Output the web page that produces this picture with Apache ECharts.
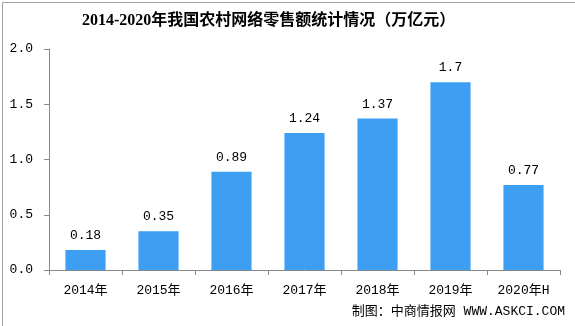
<!DOCTYPE html>
<html>
<head>
<meta charset="utf-8">
<script src="https://cdn.jsdelivr.net/npm/echarts@6/dist/echarts.min.js"></script>
<style>
  html, body { margin: 0; padding: 0; background: #fff; }
  #chart { width: 575px; height: 326px; }
</style>
</head>
<body>
<div id="chart"></div>
<script>
// Rural online retail sales, trillion yuan
const years = ['2014年', '2015年', '2016年', '2017年', '2018年', '2019年', '2020年H'];
const sales = [0.18, 0.35, 0.89, 1.24, 1.37, 1.7, 0.77];
const yTicks = { min: 0, max: 2, interval: 0.5 };

const monoFont = '"Liberation Mono", "DejaVu Sans Mono", "Noto Sans CJK SC", monospace';
const chart = echarts.init(document.getElementById('chart'), null, { renderer: 'canvas' });

chart.setOption({
  backgroundColor: '#ffffff',
  animation: false,
  title: {
    text: '2014-2020年我国农村网络零售额统计情况（万亿元）',
    left: 77,
    top: 8,
    textStyle: {
      fontFamily: '"Liberation Serif", "Noto Sans CJK SC", serif',
      fontSize: 16,
      fontWeight: 'bold',
      color: '#000'
    }
  },
  graphic: [{
    // thin frame around the whole figure
    type: 'rect',
    left: 0,
    top: 0,
    shape: { x: 0.5, y: 0.5, width: 574, height: 325 },
    style: { fill: 'none', stroke: '#a0a0a0', lineWidth: 1 },
    silent: true
  }, {
    type: 'text',
    right: 10,
    bottom: 8,
    style: {
      text: '制图：中商情报网 WWW.ASKCI.COM',
      font: '13px ' + monoFont,
      fill: '#000'
    }
  }],
  grid: { left: 49, right: 15, top: 49, bottom: 56, containLabel: false },
  xAxis: {
    type: 'category',
    data: years,
    axisLine: { lineStyle: { color: '#888', width: 1 } },
    axisTick: { show: true, alignWithLabel: false, length: 5, lineStyle: { color: '#888' } },
    axisLabel: { color: '#000', fontFamily: monoFont, fontSize: 13, margin: 14, interval: 0 }
  },
  yAxis: {
    type: 'value',
    min: yTicks.min,
    max: yTicks.max,
    interval: yTicks.interval,
    axisLine: { show: true, lineStyle: { color: '#888', width: 1 } },
    axisTick: { show: true, length: 5, lineStyle: { color: '#888' } },
    splitLine: { show: false },
    axisLabel: {
      color: '#000', fontFamily: monoFont, fontSize: 13, margin: 16,
      formatter: v => v.toFixed(1)
    }
  },
  series: [{
    type: 'bar',
    data: sales,
    barWidth: '55%',
    itemStyle: { color: '#3d9ef2' },
    label: {
      show: true,
      position: 'top',
      distance: 8,
      color: '#000',
      fontFamily: monoFont,
      fontSize: 13,
      formatter: p => String(p.value)
    }
  }]
});
</script>
</body>
</html>
